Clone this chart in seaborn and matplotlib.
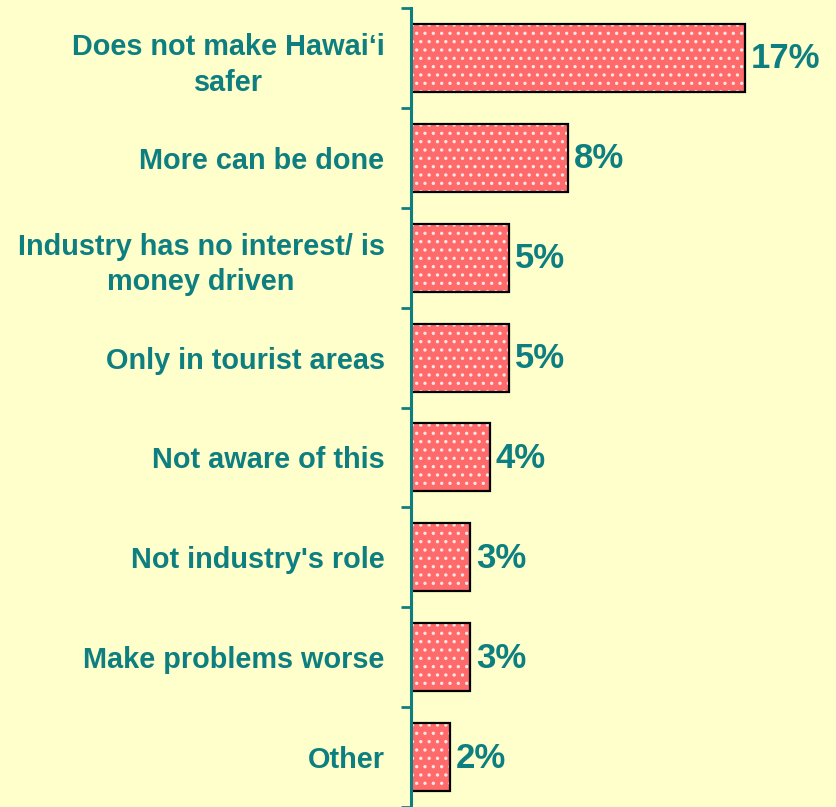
import matplotlib
matplotlib.use("Agg")
import matplotlib.pyplot as plt
import seaborn as sns
import pandas as pd
import numpy as np

categories = [
    "Does not make Hawai\u2018i\nsafer",
    "More can be done",
    "Industry has no interest/ is\nmoney driven",
    "Only in tourist areas",
    "Not aware of this",
    "Not industry's role",
    "Make problems worse",
    "Other",
]
values = [17, 8, 5, 5, 4, 3, 3, 2]

BG = "#FFFFCC"
TEAL = "#0E7F80"
BAR = "#FF6A6A"

sns.set_theme(style="white")
plt.rcParams["font.family"] = ["Liberation Sans", "DejaVu Sans"]
plt.rcParams["font.weight"] = "bold"
plt.rcParams["hatch.linewidth"] = 1.2

df = pd.DataFrame({"reason": categories, "pct": values})

fig = plt.figure(figsize=(8.36, 8.07), dpi=100, facecolor=BG)
ax = fig.add_axes([411 / 836, 0, 393 / 836, 799 / 807])
ax.set_facecolor(BG)

# filled, dotted bars
sns.barplot(data=df, x="pct", y="reason", orient="h", ax=ax, color=BAR,
            saturation=1, width=0.68, edgecolor="#FFE6E6", linewidth=0,
            hatch="..", zorder=2)
# black outlines on top
sns.barplot(data=df, x="pct", y="reason", orient="h", ax=ax, fill=False,
            width=0.68, edgecolor="black", linewidth=1.6, zorder=3)

ax.set_xlim(0, 20)
ax.set_ylim(len(categories) - 0.5, -0.5)
ax.set_xlabel("")
ax.set_ylabel("")
ax.set_xticks([])

for s in ["top", "right", "bottom"]:
    ax.spines[s].set_visible(False)
ax.spines["left"].set_color(TEAL)
ax.spines["left"].set_linewidth(2.2)
ax.spines["left"].set_zorder(5)

ax.set_yticks(range(len(categories)))
ax.set_yticklabels(categories, fontsize=20.8, fontweight="bold", color=TEAL,
                   multialignment="center", linespacing=1.35)
ax.tick_params(axis="y", which="major", left=False, length=0, pad=19)
ax.set_yticks(np.arange(-0.5, len(categories), 1.0), minor=True)
ax.tick_params(axis="y", which="minor", left=True, length=7, width=2,
               color=TEAL, direction="out")

for i, v in enumerate(values):
    ax.text(v + 0.3, i + 0.01, f"{v}%", va="center", ha="left", fontsize=25,
            fontweight="bold", color=TEAL)

fig.savefig("out.png", dpi=100, facecolor=BG)
